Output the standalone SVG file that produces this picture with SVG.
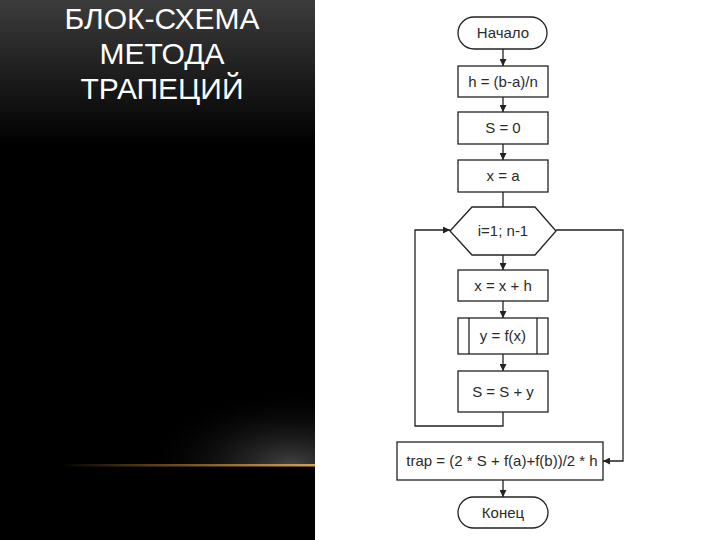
<svg xmlns="http://www.w3.org/2000/svg" width="720" height="540" viewBox="0 0 720 540">
<defs>
<linearGradient id="bg" x1="0" y1="0" x2="0" y2="1">
<stop offset="0" stop-color="#3c3c3c"/>
<stop offset="0.27" stop-color="#000"/>
<stop offset="1" stop-color="#000"/>
</linearGradient>
<radialGradient id="glow" cx="0.85" cy="1" r="0.9">
<stop offset="0" stop-color="#444"/>
<stop offset="1" stop-color="#000" stop-opacity="0"/>
</radialGradient>
<linearGradient id="line" x1="0" y1="0" x2="1" y2="0">
<stop offset="0" stop-color="#c08a3a" stop-opacity="0"/>
<stop offset="0.4" stop-color="#b07a30" stop-opacity="0.55"/>
<stop offset="1" stop-color="#d8a050"/>
</linearGradient>
<marker id="ar" viewBox="0 0 10 10" refX="10" refY="5" markerWidth="7" markerHeight="7" markerUnits="userSpaceOnUse" orient="auto">
<path d="M0,0 L10,5 L0,10 z" fill="#222"/>
</marker>
<style>
.s{fill:#fff;stroke:#222;stroke-width:1.3}
.t{font-family:"Liberation Sans",Arial,sans-serif;font-size:15px;fill:#2a2a2a;text-anchor:middle}
.c{fill:none;stroke:#222;stroke-width:1.3}
.h{font-family:"Liberation Sans",Arial,sans-serif;font-size:30px;fill:#fff;text-anchor:middle}
</style>
</defs>
<rect x="0" y="0" width="720" height="540" fill="#fff"/>
<rect x="0" y="0" width="315" height="540" fill="url(#bg)"/>
<rect x="150" y="380" width="165" height="86" fill="url(#glow)"/>
<rect x="60" y="464" width="255" height="2.5" fill="url(#line)"/>
<g id="title">
<text class="h" x="162" y="29">БЛОК-СХЕМА</text>
<text class="h" x="162" y="64">МЕТОДА</text>
<text class="h" x="162" y="99">ТРАПЕЦИЙ</text>
</g>
<g id="connectors">
<line class="c" x1="503" y1="49" x2="503" y2="66" marker-end="url(#ar)"/>
<line class="c" x1="503" y1="97" x2="503" y2="112" marker-end="url(#ar)"/>
<line class="c" x1="503" y1="144" x2="503" y2="160" marker-end="url(#ar)"/>
<line class="c" x1="503" y1="192" x2="503" y2="207"/>
<line class="c" x1="503" y1="255" x2="503" y2="270" marker-end="url(#ar)"/>
<line class="c" x1="503" y1="301" x2="503" y2="318" marker-end="url(#ar)"/>
<line class="c" x1="503" y1="354" x2="503" y2="371" marker-end="url(#ar)"/>
<polyline class="c" points="503,412 503,426 415,426 415,230 450,230" marker-end="url(#ar)"/>
<polyline class="c" points="556,230 623,230 623,461 603,461" marker-end="url(#ar)"/>
<line class="c" x1="503" y1="480" x2="503" y2="497" marker-end="url(#ar)"/>
</g>
<g id="start">
<rect class="s" x="458" y="17" width="89" height="32" rx="16"/>
<text class="t" x="503" y="38">Начало</text>
</g>
<g id="h">
<rect class="s" x="458" y="66" width="90" height="31"/>
<text class="t" x="503" y="87">h = (b-a)/n</text>
</g>
<g id="s0">
<rect class="s" x="458" y="112" width="90" height="32"/>
<text class="t" x="503" y="133">S = 0</text>
</g>
<g id="xa">
<rect class="s" x="458" y="160" width="90" height="32"/>
<text class="t" x="503" y="181">x = a</text>
</g>
<g id="loop">
<polygon class="s" points="450,231 472,207 535,207 556,231 535,255 472,255"/>
<text class="t" x="503" y="236">i=1; n-1</text>
</g>
<g id="xxh">
<rect class="s" x="458" y="270" width="90" height="31"/>
<text class="t" x="503" y="291">x = x + h</text>
</g>
<g id="yfx">
<rect class="s" x="458" y="318" width="90" height="36"/>
<line class="c" x1="469" y1="318" x2="469" y2="354"/>
<line class="c" x1="537" y1="318" x2="537" y2="354"/>
<text class="t" x="503" y="341">y = f(x)</text>
</g>
<g id="ssy">
<rect class="s" x="458" y="371" width="90" height="41"/>
<text class="t" x="503" y="397">S = S + y</text>
</g>
<g id="trap">
<rect class="s" x="397" y="442" width="206" height="38"/>
<text class="t" x="502" y="466">trap = (2 * S + f(a)+f(b))/2 * h</text>
</g>
<g id="end">
<rect class="s" x="458" y="497" width="90" height="31" rx="15.5"/>
<text class="t" x="503" y="518">Конец</text>
</g>
</svg>
